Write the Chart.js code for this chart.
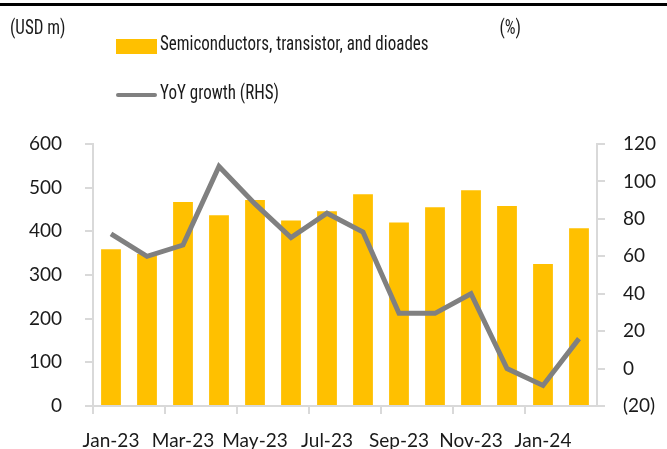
<!DOCTYPE html>
<html>
<head>
<meta charset="utf-8">
<script src="https://cdn.jsdelivr.net/npm/chart.js@4/dist/chart.umd.min.js"></script>
<style>
html,body{margin:0;padding:0;background:#fff;}
#c{display:block;}
</style>
</head>
<body>
<canvas id="c" width="667" height="449"></canvas>
<script>
const categories = ["Jan-23","Feb-23","Mar-23","Apr-23","May-23","Jun-23","Jul-23","Aug-23","Sep-23","Oct-23","Nov-23","Dec-23","Jan-24","Feb-24"];
const exportsUSDm = [359, 348, 467, 437, 472, 425, 446, 485, 420, 455, 494, 458, 325, 407];
const yoyGrowth = [72, 60, 66, 108, 88, 70, 83, 73, 29.5, 29.5, 40, 0, -9, 16];
const leftTicks = {min: 0, max: 600, step: 100};
const rightTicks = {min: -20, max: 120, step: 20};
const barLabel = "Semiconductors, transistor, and dioades";
const lineLabel = "YoY growth (RHS)";

const BAR_COLOR = "#FFC000";
const LINE_COLOR = "#808080";
const AXIS_COLOR = "#d9d9d9";
const TEXT_COLOR = "#1a1a1a";
const TICK_FONT = {family: "Lato, 'Open Sans', sans-serif", size: 19};
const LEGEND_FONT = "20px 'Liberation Sans Narrow', 'Roboto Condensed', Lato, sans-serif";
const SQUEEZE = 0.85;

function narrowText(ctx, text, x, y, align) {
  ctx.save();
  ctx.font = LEGEND_FONT;
  ctx.textBaseline = "middle";
  ctx.textAlign = "left";
  const w = ctx.measureText(text).width * SQUEEZE;
  const x0 = align === "right" ? x - w : x;
  ctx.translate(x0, y);
  ctx.scale(SQUEEZE, 1);
  ctx.fillText(text, 0, 0);
  ctx.restore();
}

const overlay = {
  id: "overlay",
  afterDraw(chart) {
    const ctx = chart.ctx;
    ctx.save();
    ctx.fillStyle = "#000";
    ctx.fillRect(0, 3, 667, 3);
    ctx.fillStyle = TEXT_COLOR;
    narrowText(ctx, "(USD m)", 10, 29, "left");
    narrowText(ctx, "(%)", 521, 29, "right");
    const ds = chart.data.datasets;
    const barDs = ds.find(d => d.type === "bar");
    const lineDs = ds.find(d => d.type === "line");
    ctx.fillStyle = barDs.backgroundColor;
    ctx.fillRect(116, 39, 41, 15);
    ctx.strokeStyle = lineDs.borderColor;
    ctx.lineWidth = 4;
    ctx.lineCap = "round";
    ctx.beginPath();
    ctx.moveTo(118, 95);
    ctx.lineTo(155, 95);
    ctx.stroke();
    ctx.fillStyle = TEXT_COLOR;
    narrowText(ctx, barDs.label, 160, 45, "left");
    narrowText(ctx, lineDs.label, 160, 94, "left");
    ctx.restore();
  }
};

new Chart(document.getElementById("c"), {
  data: {
    labels: categories,
    datasets: [
      {
        type: "line",
        label: lineLabel,
        data: yoyGrowth,
        yAxisID: "y1",
        borderColor: LINE_COLOR,
        borderWidth: 5,
        pointRadius: 0,
        tension: 0,
        order: 0
      },
      {
        type: "bar",
        label: barLabel,
        data: exportsUSDm,
        yAxisID: "y",
        backgroundColor: BAR_COLOR,
        barPercentage: 0.55,
        categoryPercentage: 1.0,
        order: 1
      }
    ]
  },
  options: {
    responsive: false,
    animation: false,
    layout: {padding: {top: 144, left: 0, right: 0, bottom: 0}},
    plugins: {legend: {display: false}, tooltip: {enabled: false}, title: {display: false}},
    scales: {
      x: {
        offset: true,
        grid: {
          offset: true, drawOnChartArea: false, tickLength: 8, lineWidth: 2,
          color: c => (c.index % 2 === 0 ? AXIS_COLOR : "rgba(0,0,0,0)")
        },
        border: {color: AXIS_COLOR, width: 2},
        ticks: {
          autoSkip: false, maxRotation: 0, color: TEXT_COLOR, font: TICK_FONT, padding: 15,
          callback: function(v, i) { return i % 2 === 0 ? this.getLabelForValue(v) : ""; }
        },
        afterFit: s => { s.height = 43; }
      },
      y: {
        position: "left",
        min: leftTicks.min, max: leftTicks.max,
        grid: {drawOnChartArea: false, color: AXIS_COLOR, tickLength: 8, lineWidth: 2},
        border: {color: AXIS_COLOR, width: 2},
        ticks: {stepSize: leftTicks.step, color: TEXT_COLOR, font: TICK_FONT, padding: 23},
        afterFit: s => { s.width = 93; }
      },
      y1: {
        position: "right",
        min: rightTicks.min, max: rightTicks.max,
        grid: {drawOnChartArea: false, color: AXIS_COLOR, tickLength: 8, lineWidth: 2},
        border: {color: AXIS_COLOR, width: 2},
        ticks: {
          stepSize: rightTicks.step, color: TEXT_COLOR, font: TICK_FONT, padding: 18,
          callback: v => v < 0 ? "(" + (-v) + ")" : String(v)
        },
        afterFit: s => { s.width = 70; }
      }
    }
  },
  plugins: [overlay]
});
</script>
</body>
</html>
